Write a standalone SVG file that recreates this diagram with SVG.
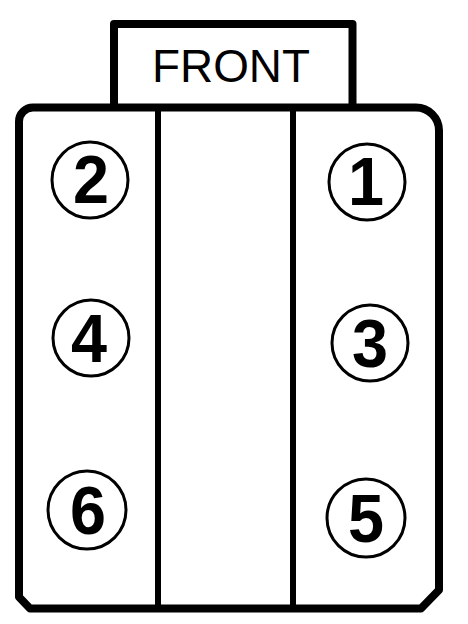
<svg xmlns="http://www.w3.org/2000/svg" width="468" height="624" viewBox="0 0 468 624">
<style>
.box{fill:none;stroke:#000;stroke-width:8;stroke-linejoin:round}
.div{stroke:#000;stroke-width:6}
.cyl{fill:#fff;stroke:#000;stroke-width:3}
.num{font-family:"Liberation Sans",Arial,sans-serif;font-weight:bold;font-size:68px;text-anchor:middle;fill:#000}
.lbl{font-family:"Liberation Sans",Arial,sans-serif;font-size:46px;text-anchor:middle;fill:#000}
</style>
<rect width="468" height="624" fill="#fff"/>
<g id="front">
<path class="box" d="M114,107.5 V24 H352.5 V107.5"/>
<text class="lbl" x="231" y="82" textLength="158" lengthAdjust="spacingAndGlyphs">FRONT</text>
</g>
<g id="block">
<path class="box" d="M33,107.5 H416 A23,23 0 0 1 439,130.5 V590 L421,608.5 H30 L19,597 V121.5 A14,14 0 0 1 33,107.5 Z"/>
</g>
<g id="connectors">
<line class="div" x1="158" y1="107" x2="158" y2="608"/>
<line class="div" x1="293" y1="107" x2="293" y2="608"/>
</g>
<g id="cyl2"><circle class="cyl" cx="90" cy="180" r="38"/><text class="num" x="91" y="203" textLength="36" lengthAdjust="spacingAndGlyphs">2</text></g>
<g id="cyl1"><circle class="cyl" cx="367" cy="182" r="38"/><text class="num" x="366" y="205" textLength="36" lengthAdjust="spacingAndGlyphs">1</text></g>
<g id="cyl4"><circle class="cyl" cx="91" cy="338" r="38"/><text class="num" x="89" y="362" textLength="36" lengthAdjust="spacingAndGlyphs">4</text></g>
<g id="cyl3"><circle class="cyl" cx="370" cy="343" r="38"/><text class="num" x="370" y="367" textLength="36" lengthAdjust="spacingAndGlyphs">3</text></g>
<g id="cyl6"><circle class="cyl" cx="87" cy="510" r="39"/><text class="num" x="88" y="534" textLength="36" lengthAdjust="spacingAndGlyphs">6</text></g>
<g id="cyl5"><circle class="cyl" cx="366" cy="518" r="39"/><text class="num" x="366" y="542" textLength="36" lengthAdjust="spacingAndGlyphs">5</text></g>
</svg>
